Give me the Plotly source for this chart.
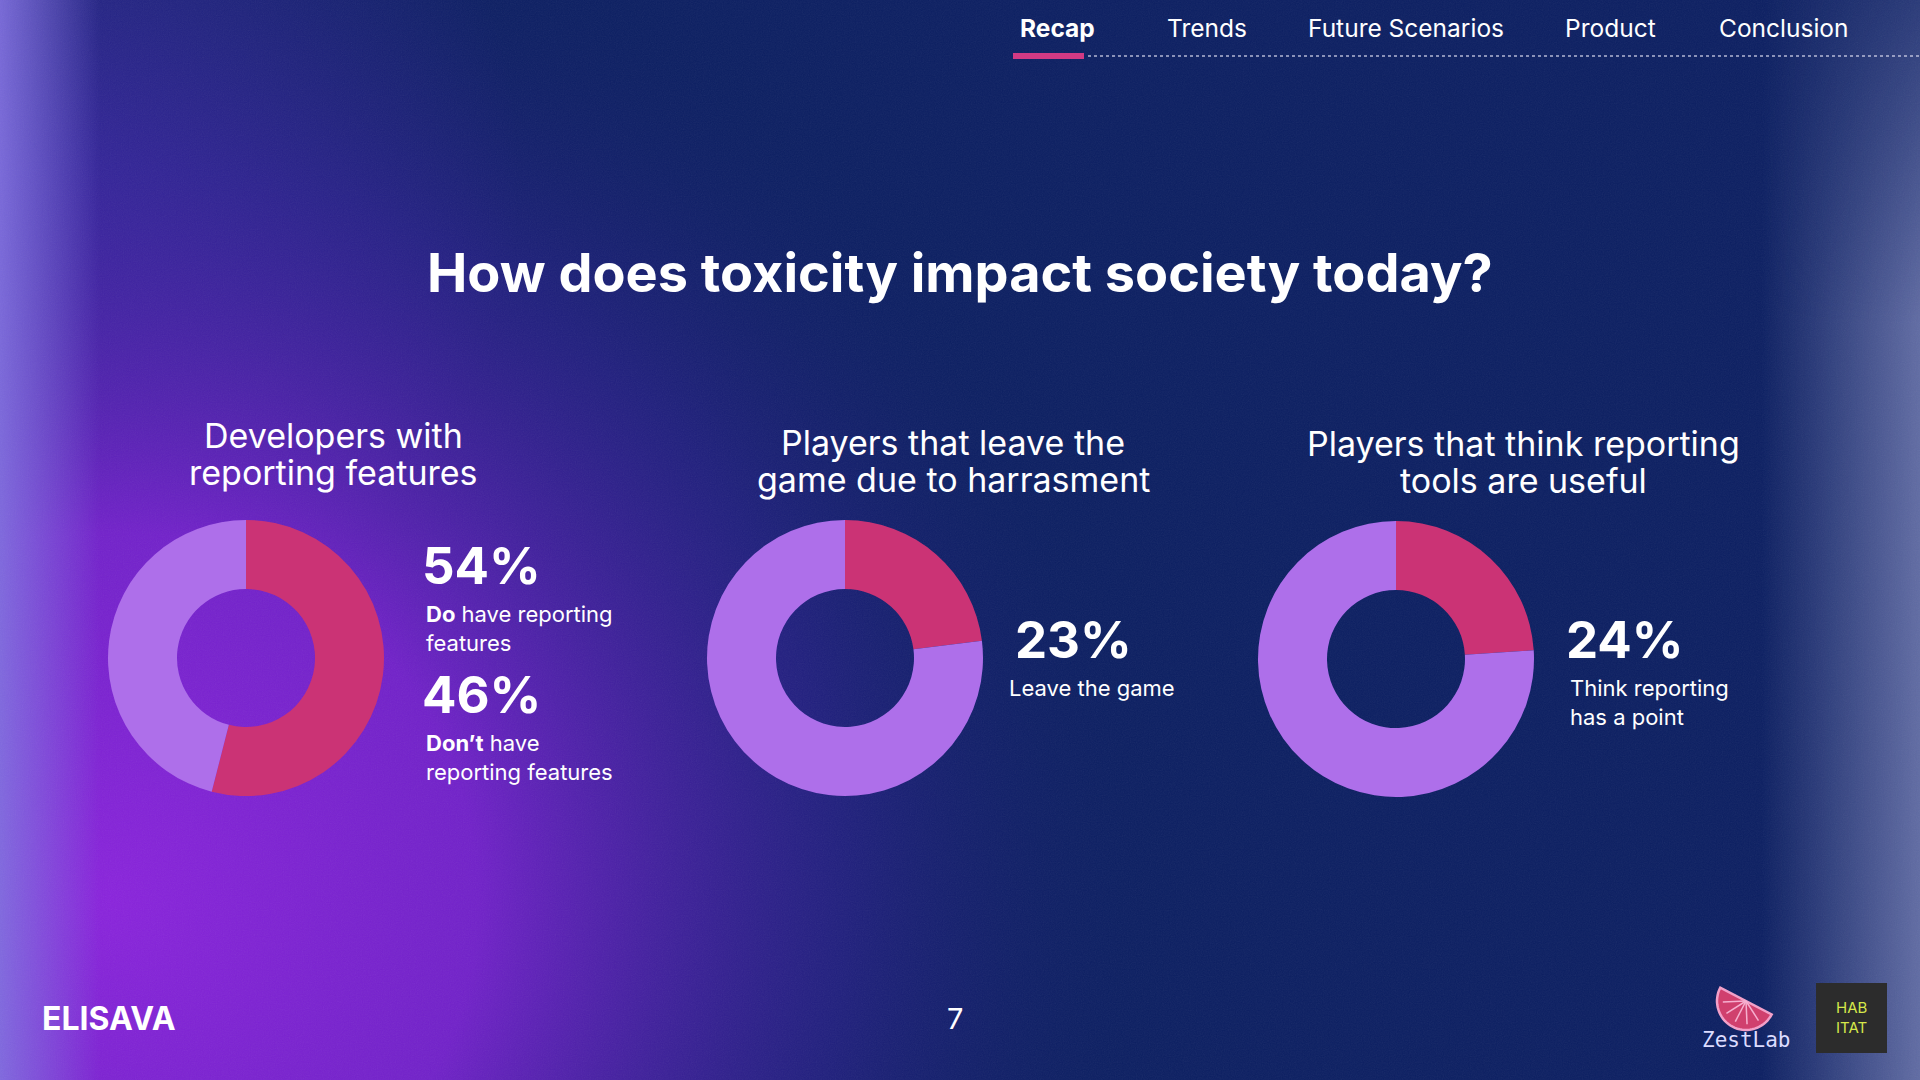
import base64
import math
import plotly.graph_objects as go

W, H = 1920, 1080

# ---- data ----
nav_items = ["Recap", "Trends", "Future Scenarios", "Product", "Conclusion"]
slide_title = "How does toxicity impact society today?"
donut_titles = [
    ["Developers with", "reporting features"],
    ["Players that leave the", "game due to harrasment"],
    ["Players that think reporting", "tools are useful"],
]
share_yes = [54, 23, 24]
share_no = [46, 77, 76]
slice_labels = ["Yes", "No"]
page_number = "7"

PINK = "#cb3375"
LILAC = "#ae6fea"
WHITE = "#ffffff"
FONT = "Inter"


def background_svg():
    svg = f'''<svg xmlns="http://www.w3.org/2000/svg" width="{W}" height="{H}" viewBox="0 0 {W} {H}">
<defs>
 <radialGradient id="purple" gradientUnits="userSpaceOnUse" cx="110" cy="900" r="1050">
  <stop offset="0" stop-color="#8a24dc" stop-opacity="1"/>
  <stop offset="0.35" stop-color="#7a22d2" stop-opacity="0.92"/>
  <stop offset="0.7" stop-color="#3a21a0" stop-opacity="0.45"/>
  <stop offset="1" stop-color="#0c1f62" stop-opacity="0"/>
 </radialGradient>
 <radialGradient id="topleft" gradientUnits="userSpaceOnUse" cx="0" cy="180" r="520">
  <stop offset="0" stop-color="#4a30b8" stop-opacity="0.7"/>
  <stop offset="1" stop-color="#4a30b8" stop-opacity="0"/>
 </radialGradient>
 <linearGradient id="left" x1="0" y1="0" x2="1" y2="0">
  <stop offset="0" stop-color="#8070e0" stop-opacity="0.9"/>
  <stop offset="1" stop-color="#8070e0" stop-opacity="0"/>
 </linearGradient>
 <linearGradient id="right" x1="1" y1="0" x2="0" y2="0">
  <stop offset="0" stop-color="#9aa0d0" stop-opacity="0.6"/>
  <stop offset="1" stop-color="#9aa0d0" stop-opacity="0"/>
 </linearGradient>
 <linearGradient id="rightfade" x1="0" y1="0" x2="0" y2="1">
  <stop offset="0" stop-color="#fff" stop-opacity="0.35"/>
  <stop offset="0.3" stop-color="#fff" stop-opacity="1"/>
  <stop offset="1" stop-color="#fff" stop-opacity="1"/>
 </linearGradient>
 <mask id="rmask"><rect x="1740" y="0" width="180" height="{H}" fill="url(#rightfade)"/></mask>
 <filter id="grain">
  <feTurbulence type="fractalNoise" baseFrequency="0.85" numOctaves="2" seed="3"/>
  <feColorMatrix type="saturate" values="0"/>
 </filter>
</defs>
<rect width="{W}" height="{H}" fill="#0c1f62"/>
<rect width="{W}" height="{H}" fill="url(#topleft)"/>
<rect width="{W}" height="{H}" fill="url(#purple)"/>
<rect x="0" y="0" width="100" height="{H}" fill="url(#left)"/>
<rect x="1760" y="0" width="160" height="{H}" fill="url(#right)" mask="url(#rmask)"/>
<rect width="{W}" height="{H}" filter="url(#grain)" opacity="0.07"/>
</svg>'''
    return "data:image/svg+xml;base64," + base64.b64encode(svg.encode()).decode()


fig = go.Figure()

# donuts: centre x, centre y (px), outer radius
centres = [(246, 658), (845, 658), (1396, 659)]
R = 138
for (cx, cy), yes, no in zip(centres, share_yes, share_no):
    fig.add_trace(go.Pie(
        values=[yes, no], labels=slice_labels,
        hole=0.5, sort=False, direction="clockwise", rotation=0,
        marker=dict(colors=[PINK, LILAC], line=dict(width=0)),
        textinfo="none", hoverinfo="skip", showlegend=False,
        domain=dict(x=[(cx - R) / W, (cx + R) / W],
                    y=[(H - cy - R) / H, (H - cy + R) / H]),
    ))


def txt(x, y, s, size, anchor="center", color=WHITE, family=FONT):
    fig.add_annotation(x=x, y=y, xref="x", yref="y", text=s, showarrow=False,
                       xanchor=anchor, yanchor="middle", align=anchor,
                       font=dict(size=size, color=color, family=family))


# navigation
nav_x = [1057, 1207, 1406, 1610, 1784]
for name, x in zip(nav_items, nav_x):
    txt(x, 28, f"<b>{name}</b>" if name == "Recap" else name, 24.5)
fig.add_shape(type="line", x0=1088, x1=W, y0=56, y1=56, xref="x", yref="y",
              line=dict(color="rgba(220,220,240,0.8)", width=1.5, dash="dot"))
fig.add_shape(type="line", x0=1013, x1=1084, y0=56, y1=56, xref="x", yref="y",
              line=dict(color="#d23a84", width=6))

# title
txt(960, 272, f"<b>{slide_title}</b>", 54)

# donut titles
title_pos = [(333, 435), (953, 442), (1523, 443)]
for (x, y), lines in zip(title_pos, donut_titles):
    for i, line in enumerate(lines):
        txt(x, y + 37 * i, line, 34)

# value callouts
txt(420, 565, f"<b>{share_yes[0]}%</b>", 51, "left")
txt(424, 628, "<b>Do</b> have reporting<br>features", 22, "left")
txt(420, 694, f"<b>{share_no[0]}%</b>", 51, "left")
txt(424, 757, "<b>Don’t</b> have<br>reporting features", 22, "left")

txt(1013, 639, f"<b>{share_yes[1]}%</b>", 51, "left")
txt(1007, 688, "Leave the game", 22, "left")

txt(1564, 639, f"<b>{share_yes[2]}%</b>", 51, "left")
txt(1568, 702, "Think reporting<br>has a point", 22, "left")

# footer
txt(40, 1018, "<b>ELISAVA</b>", 32, "left")
txt(955, 1018, page_number, 29)

# ZestLab logo: a tilted half slice
ux, uy = 0.887, 0.461
vx, vy = -0.461, 0.887
mx, my, r = 1746, 1001, 29
pts = []
for k in range(0, 37):
    t = math.pi * k / 36
    pts.append((mx + r * (math.cos(t) * ux + math.sin(t) * vx),
                my + r * (math.cos(t) * uy + math.sin(t) * vy)))
path = "M " + " L ".join(f"{px:.1f} {py:.1f}" for px, py in pts) + " Z"
fig.add_shape(type="path", xref="x", yref="y", path=path,
              fillcolor="#d0406e", line=dict(color="#f2a0c8", width=2.5))
for k in range(1, 6):
    t = math.pi * k / 6
    ex = mx + 0.8 * r * (math.cos(t) * ux + math.sin(t) * vx)
    ey = my + 0.8 * r * (math.cos(t) * uy + math.sin(t) * vy)
    fig.add_shape(type="line", xref="x", yref="y", x0=mx, y0=my, x1=ex, y1=ey,
                  line=dict(color="#f6b0d0", width=1.5))
txt(1746, 1040, "ZestLab", 21, color="#dcdcff", family="DejaVu Sans Mono")

# HABITAT logo
fig.add_shape(type="rect", xref="x", yref="y", x0=1816, x1=1887, y0=983, y1=1053,
              fillcolor="#2c2c2c", line=dict(width=0))
txt(1851, 1017, "HAB<br>ITAT", 15, color="#d6e84a")

fig.add_layout_image(dict(source=background_svg(), xref="paper", yref="paper",
                          x=0, y=1, sizex=1, sizey=1, sizing="stretch",
                          layer="below"))

fig.update_layout(
    width=W, height=H, margin=dict(l=0, r=0, t=0, b=0),
    paper_bgcolor="#0c1f62", plot_bgcolor="rgba(0,0,0,0)",
    xaxis=dict(range=[0, W], visible=False, fixedrange=True, domain=[0, 1]),
    yaxis=dict(range=[H, 0], visible=False, fixedrange=True, domain=[0, 1]),
    font=dict(family=FONT, color=WHITE),
)

fig.write_html("out.html", config={"displayModeBar": False},
               post_script="document.body.style.margin='0';document.body.style.background='#0c1f62';")
